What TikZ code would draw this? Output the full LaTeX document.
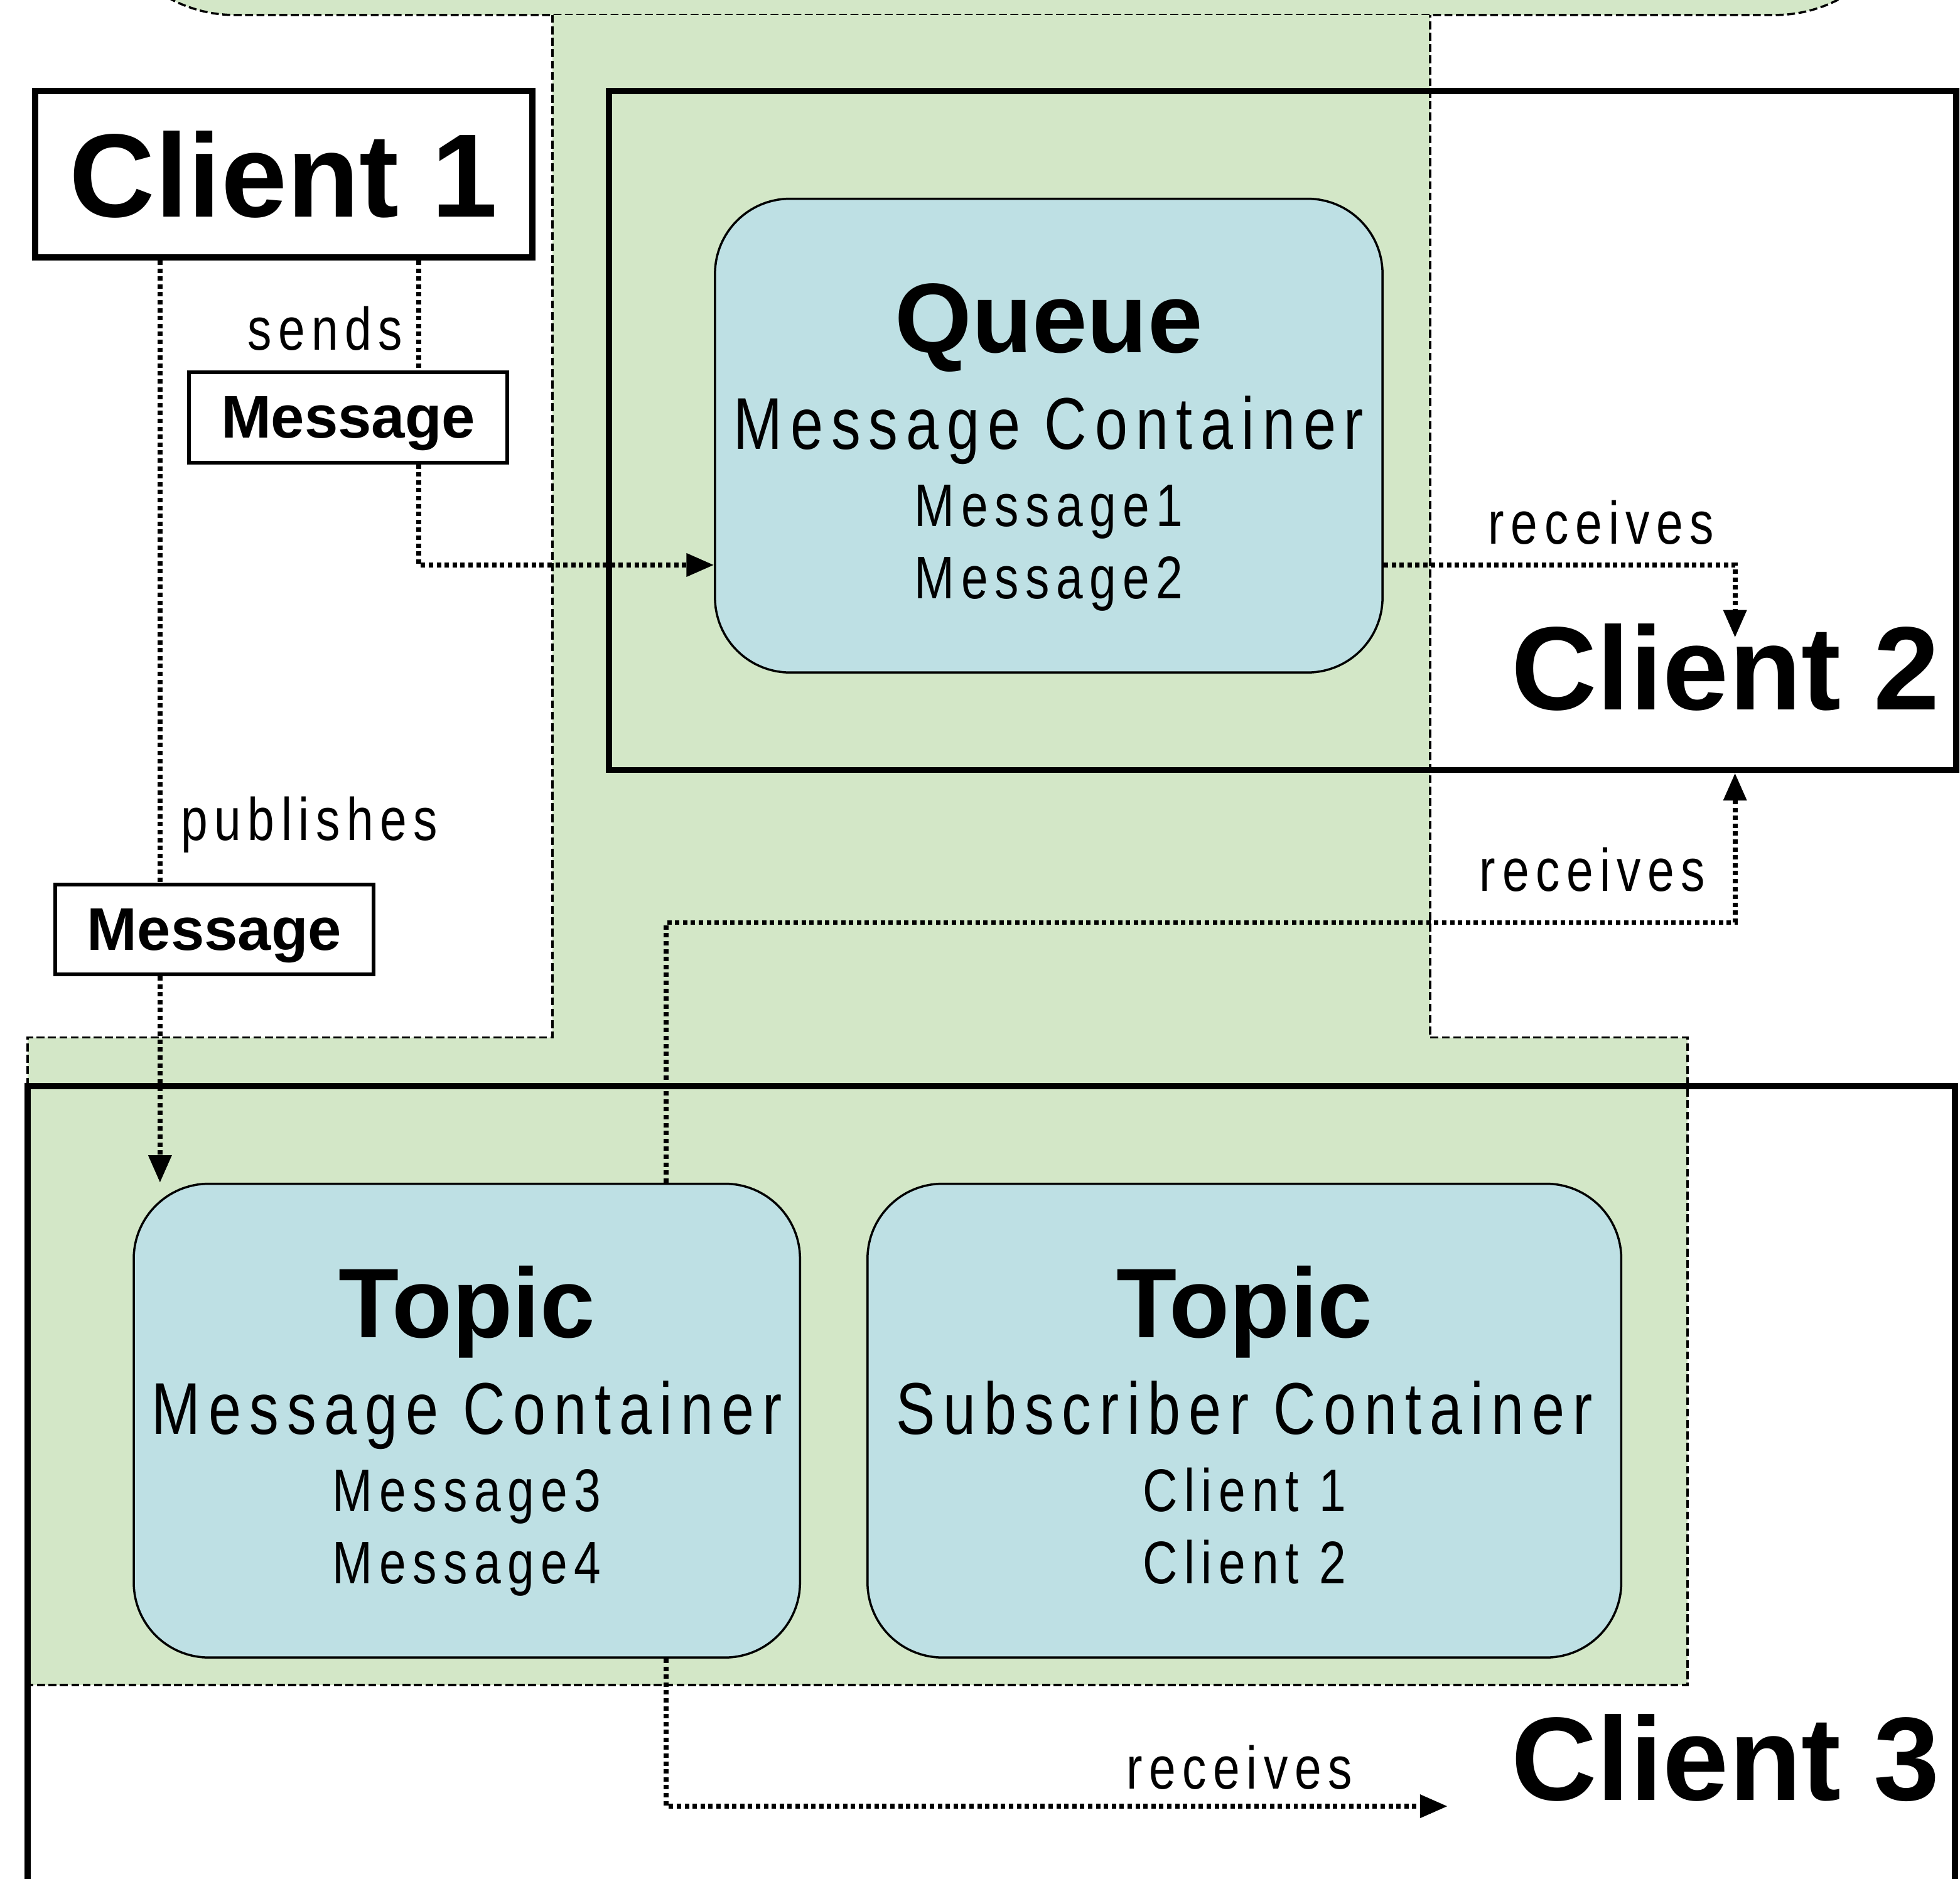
\documentclass[tikz,border=0pt]{standalone}
\usepackage{fontspec}
\setmainfont{Liberation Sans}
\newfontfamily\narrowfont[FakeStretch=0.8,LetterSpace=11]{Liberation Sans}
\usepackage{tikz}
\usetikzlibrary{arrows.meta}
\usetikzlibrary{positioning}
\definecolor{greenbg}{RGB}{211,231,199}
\definecolor{bluebox}{RGB}{190,224,228}
\newcommand{\clientfont}{\bfseries\fontsize{27}{30}\selectfont}
\newcommand{\titlefont}{\bfseries\fontsize{22.5}{26}\selectfont}
\newcommand{\contfont}{\narrowfont\fontsize{16.7}{20}\selectfont}
\newcommand{\itemfont}{\narrowfont\fontsize{13.7}{16}\selectfont}
\newcommand{\msgfont}{\bfseries\fontsize{13.7}{16}\selectfont}

\begin{document}
\begin{tikzpicture}[
	zone/.style={line width=0.5pt, dash pattern=on 1.8pt off 0.8pt},
	clientbox/.style={draw, line width=1.4pt, inner sep=0pt},
	container/.style={draw, fill=bluebox, line width=0.5pt, rounded corners=0.6cm, minimum height=3.79cm, inner sep=0pt},
	msgbox/.style={draw, fill=white, line width=0.85pt, minimum width=2.55cm, minimum height=0.72cm, inner sep=0pt, text depth=0pt, font=\msgfont},
	flow/.style={line width=1.1pt, dash pattern=on 1pt off 0.8pt},
	lbl/.style={anchor=base, inner sep=0pt, font=\itemfont},
	>={Triangle[length=0.22cm, width=0.18cm]}
]
	\useasboundingbox (0,0) rectangle (15.68,15.03);
	\clip (0,0) rectangle (15.68,15.03);

	% green areas
	\draw[zone, fill=greenbg, rounded corners=1.1cm] (0.78,17) rectangle (15.30,14.91);
	\fill[greenbg] (4.42,14.91) -- (4.42,6.73) -- (0.22,6.73) -- (0.22,1.55) -- (13.50,1.55) -- (13.50,6.73) -- (11.44,6.73) -- (11.44,14.91) -- cycle;
	\draw[zone] (4.42,14.91) -- (4.42,6.73) -- (0.22,6.73) -- (0.22,1.55) -- (13.50,1.55) -- (13.50,6.73) -- (11.44,6.73) -- (11.44,14.91);

	% clients
	\node[clientbox, minimum width=3.98cm, minimum height=1.33cm, font=\clientfont] (client1) at (2.27,13.635) {Client 1};
	\node[clientbox, minimum width=10.78cm, minimum height=5.43cm] (client2) at (10.26,11.585) {};
	\node[lbl, font=\clientfont] (c2label) at (13.805,9.35) {Client 2};
	\node[clientbox, minimum width=15.42cm, minimum height=6.64cm] (client3) at (7.93,3.02) {};
	\node[lbl, font=\clientfont] (c3label) at (13.805,0.63) {Client 3};

	% queue
	\node[container, minimum width=5.34cm] (queue) at (8.39,11.545) {};
	\node[lbl, font=\titlefont] (qtitle) at ([yshift=-1.24cm]queue.north) {Queue};
	\node[lbl, font=\contfont] (qcont) at ([yshift=-2.01cm]queue.north) {Message Container};
	\node[lbl] (qmsg1) at ([yshift=-2.63cm]queue.north) {Message1};
	\node[lbl] (qmsg2) at ([yshift=-3.21cm]queue.north) {Message2};

	% topics
	\node[container, minimum width=5.33cm] (topic1) at (3.735,3.665) {};
	\node[lbl, font=\titlefont] (t1title) at ([yshift=-1.24cm]topic1.north) {Topic};
	\node[lbl, font=\contfont] (t1cont) at ([yshift=-2.01cm]topic1.north) {Message Container};
	\node[lbl] (t1msg3) at ([yshift=-2.63cm]topic1.north) {Message3};
	\node[lbl] (t1msg4) at ([yshift=-3.21cm]topic1.north) {Message4};

	\node[container, minimum width=6.03cm] (topic2) at (9.955,3.665) {};
	\node[lbl, font=\titlefont] (t2title) at ([yshift=-1.24cm]topic2.north) {Topic};
	\node[lbl, font=\contfont] (t2cont) at ([yshift=-2.01cm]topic2.north) {Subscriber Container};
	\node[lbl] (t2sub1) at ([yshift=-2.63cm]topic2.north) {Client 1};
	\node[lbl] (t2sub2) at ([yshift=-3.21cm]topic2.north) {Client 2};

	% messages in transit
	\node[msgbox] (msg1) at (2.785,11.69) {Message};
	\node[msgbox] (msg2) at (1.715,7.595) {Message};

	% connectors
	\coordinate (sx) at (3.35,0);
	\coordinate (px) at (1.28,0);
	\coordinate (tx) at (5.33,0);
	\coordinate (qlevel) at (0,10.51);
	\coordinate (c2in) at (13.88,9.93);
	\coordinate (r2) at (13.88,7.65);
	\coordinate (c3in) at (11.58,0.58);

	\draw[flow] (client1.south -| sx) -- (msg1.north -| sx);
	\draw[flow,->] (msg1.south -| sx) |- (queue.west |- qlevel);
	\draw[flow] (client1.south -| px) -- (msg2.north -| px);
	\draw[flow,->] (msg2.south -| px) -- (topic1.north -| px);
	\draw[flow,->] (queue.east |- qlevel) -| (c2in);
	\draw[flow,->] (topic1.north -| tx) |- (r2) -- (client2.south -| r2);
	\draw[flow,->] (topic1.south -| tx) |- (c3in);

	\node[lbl] (sends) at (2.60,12.23) {sends};
	\node[lbl] (publishes) at (2.475,8.31) {publishes};
	\node[lbl] (recv1) at (12.81,10.68) {receives};
	\node[lbl] (recv2) at (12.74,7.90) {receives};
	\node[lbl] (recv3) at (9.915,0.72) {receives};
\end{tikzpicture}
\end{document}
